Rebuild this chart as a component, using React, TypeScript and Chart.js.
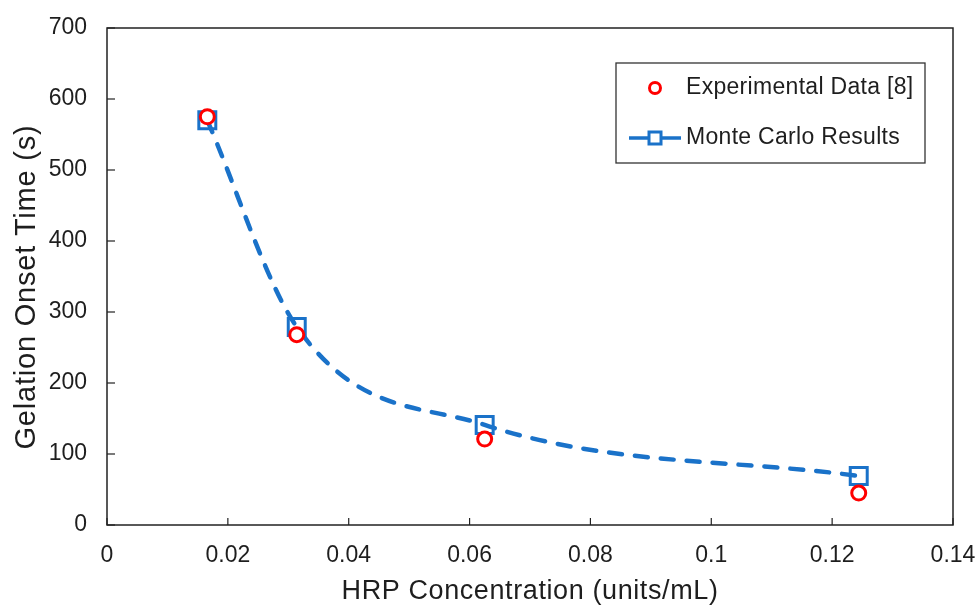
import React, { useEffect, useRef } from "react";
import { Chart, registerables } from "chart.js";

Chart.register(...registerables);

const hrpConcentration = [0.0166, 0.0314, 0.0625, 0.1244];
const experimentalData = [575, 268, 121, 45];
const monteCarloResults = [570, 279, 141, 69];

const xTitle = "HRP Concentration (units/mL)";
const yTitle = "Gelation Onset Time (s)";
const legendLabels = ["Experimental Data [8]", "Monte Carlo Results"];

const FONT = "'Liberation Sans', Arial, sans-serif";
const RED = "#ff0000";
const BLUE = "#1a72c9";
const TEXT = "#1e1e1e";

const framePlugin = {
  id: "frame",
  afterDatasetsDraw(chart: any) {
    const { ctx, chartArea } = chart;
    const { left, right, top, bottom } = chartArea;
    ctx.save();
    ctx.strokeStyle = "#222";
    ctx.lineWidth = 1.5;
    ctx.strokeRect(left, top, right - left, bottom - top);
    // inward ticks
    ctx.lineWidth = 1.2;
    const ys = chart.scales.y;
    ys.ticks.forEach((t: any) => {
      const py = ys.getPixelForValue(t.value);
      ctx.beginPath();
      ctx.moveTo(left, py);
      ctx.lineTo(left + 8, py);
      ctx.stroke();
    });
    const xs = chart.scales.x;
    xs.ticks.forEach((t: any) => {
      const px = xs.getPixelForValue(t.value);
      ctx.beginPath();
      ctx.moveTo(px, bottom);
      ctx.lineTo(px, bottom - 7);
      ctx.stroke();
    });

    // axis titles
    ctx.fillStyle = TEXT;
    ctx.textAlign = "center";
    ctx.textBaseline = "alphabetic";
    ctx.font = `27px ${FONT}`;
    (ctx as any).letterSpacing = "0.6px";
    ctx.fillText(xTitle, (left + right) / 2, 599);
    ctx.save();
    ctx.font = `29px ${FONT}`;
    (ctx as any).letterSpacing = "0.8px";
    ctx.translate(35, 287);
    ctx.rotate(-Math.PI / 2);
    ctx.fillText(yTitle, 0, 0);
    ctx.restore();
    (ctx as any).letterSpacing = "0px";

    // legend
    const lx = 616, ly = 63, lw = 309, lh = 100;
    ctx.fillStyle = "#fff";
    ctx.fillRect(lx, ly, lw, lh);
    ctx.strokeStyle = "#333";
    ctx.lineWidth = 1.3;
    ctx.strokeRect(lx, ly, lw, lh);

    ctx.strokeStyle = RED;
    ctx.lineWidth = 3;
    ctx.beginPath();
    ctx.arc(655, 88, 5.5, 0, Math.PI * 2);
    ctx.stroke();

    ctx.strokeStyle = BLUE;
    ctx.lineWidth = 3.5;
    ctx.beginPath();
    ctx.moveTo(629, 138);
    ctx.lineTo(681, 138);
    ctx.stroke();
    ctx.fillStyle = "#fff";
    ctx.fillRect(649, 132, 12, 12);
    ctx.lineWidth = 3;
    ctx.strokeRect(649, 132, 12, 12);

    ctx.fillStyle = TEXT;
    ctx.font = `23px ${FONT}`;
    (ctx as any).letterSpacing = "0.3px";
    ctx.textAlign = "left";
    ctx.textBaseline = "middle";
    ctx.fillText(legendLabels[0], 686, 88);
    ctx.fillText(legendLabels[1], 686, 138);
    ctx.restore();
  },
};

export default function App() {
  const canvasRef = useRef<HTMLCanvasElement | null>(null);

  useEffect(() => {
    if (!canvasRef.current) return;
    const chart = new Chart(canvasRef.current, {
      type: "line",
      data: {
        datasets: [
          {
            label: legendLabels[0],
            data: hrpConcentration.map((x, i) => ({ x, y: experimentalData[i] })),
            showLine: false,
            pointStyle: "circle",
            pointRadius: 7,
            pointBorderWidth: 3,
            borderColor: RED,
            backgroundColor: "#fff",
            pointBackgroundColor: "#fff",
            pointBorderColor: RED,
          },
          {
            label: legendLabels[1],
            data: hrpConcentration.map((x, i) => ({ x, y: monteCarloResults[i] })),
            showLine: true,
            borderColor: BLUE,
            borderWidth: 4.5,
            borderDash: [13, 13],
            borderCapStyle: "round",
            cubicInterpolationMode: "monotone",
            pointStyle: "rect",
            pointRadius: 12,
            pointBorderWidth: 3,
            pointBackgroundColor: "rgba(255,255,255,0.0)",
            pointBorderColor: BLUE,
            fill: false,
          },
        ],
      },
      options: {
        animation: false,
        responsive: false,
        maintainAspectRatio: false,
        layout: { padding: { top: 28, right: 26, left: 0, bottom: 0 } },
        plugins: {
          legend: { display: false },
          tooltip: { enabled: false },
        },
        scales: {
          x: {
            type: "linear",
            min: 0,
            max: 0.14,
            grid: { display: false, drawTicks: false },
            border: { display: false },
            ticks: {
              stepSize: 0.02,
              padding: 17,
              color: TEXT,
              font: { family: FONT, size: 23 },
              maxRotation: 0,
              callback: (v: any) => String(+Number(v).toFixed(2)),
            },
            afterFit: (s: any) => {
              s.height = 85;
              s.paddingLeft = 0;
              s.paddingRight = 0;
            },
          },
          y: {
            type: "linear",
            min: 0,
            max: 700,
            grid: { display: false, drawTicks: false },
            border: { display: false },
            ticks: {
              stepSize: 100,
              padding: 20,
              color: TEXT,
              font: { family: FONT, size: 23 },
            },
            afterFit: (s: any) => {
              s.width = 107;
              s.paddingTop = 0;
              s.paddingBottom = 0;
            },
          },
        },
      },
      plugins: [framePlugin],
    } as any);
    return () => chart.destroy();
  }, []);

  return (
    <div style={{ position: "absolute", left: 0, top: 0, width: 979, height: 610, background: "#fff" }}>
      <canvas ref={canvasRef} width={979} height={610} style={{ width: 979, height: 610 }} />
    </div>
  );
}
